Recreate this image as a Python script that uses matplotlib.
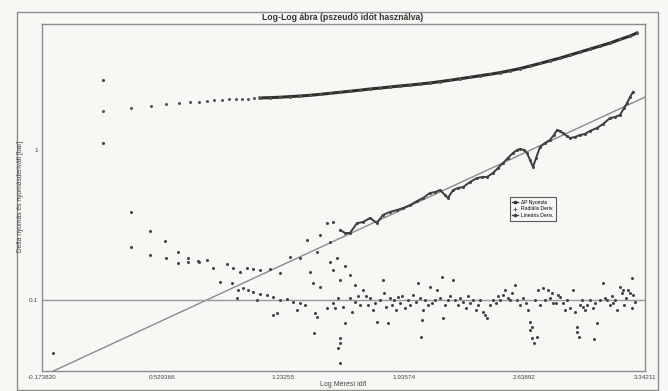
import numpy as np
import matplotlib
matplotlib.use("Agg")
import matplotlib.pyplot as plt
from matplotlib.patches import Rectangle
from matplotlib.ticker import FixedLocator, FuncFormatter

plt.rcParams['font.family'] = ['Liberation Sans', 'DejaVu Sans']

# both axes are in log10 units: x = log t, y = log dp
x_min, x_max = -0.17382, 3.34211
y_min, y_max = -1.473, 0.84

# pressure change (dp)
dp_x = [0.182, 0.345, 0.462, 0.549, 0.625, 0.689, 0.742, 0.788, 0.829, 0.876,
        0.917, 0.957, 0.992, 1.027, 1.062, 1.097, 1.156, 1.214, 1.272, 1.331,
        1.389, 1.447, 1.506, 1.564, 1.622, 1.681, 1.739, 1.797, 1.855, 1.914,
        1.972, 2.030, 2.089, 2.147, 2.205, 2.264, 2.322, 2.380, 2.439, 2.497,
        2.555, 2.613, 2.672, 2.730, 2.788, 2.847, 2.905, 2.963, 3.022, 3.080,
        3.138, 3.196, 3.255, 3.295]
dp_y = [0.260, 0.280, 0.293, 0.307, 0.313, 0.320, 0.320, 0.327, 0.333, 0.333,
        0.337, 0.340, 0.341, 0.343, 0.345, 0.347, 0.349, 0.352, 0.356, 0.360,
        0.365, 0.371, 0.378, 0.385, 0.392, 0.399, 0.407, 0.413, 0.420, 0.427,
        0.433, 0.440, 0.447, 0.456, 0.465, 0.475, 0.485, 0.495, 0.505, 0.516,
        0.529, 0.543, 0.560, 0.577, 0.595, 0.613, 0.633, 0.653, 0.673, 0.693,
        0.713, 0.737, 0.760, 0.780]

# derivative following the linear-flow trend
lin_x = [0.182, 0.345, 0.456, 0.543, 0.619, 0.677, 0.736, 0.788, 0.905, 0.940,
         0.981, 1.021, 1.056, 1.097, 1.156, 1.214, 1.272, 1.331, 1.371, 1.430,
         1.447, 1.488, 1.505, 1.523, 1.564, 1.593, 1.622, 1.663, 1.698, 1.739,
         1.779, 1.814, 1.855, 1.896, 1.931, 1.972, 2.013, 2.048, 2.088, 2.118,
         2.147, 2.176, 2.193, 2.223, 2.252, 2.281, 2.322, 2.362, 2.392, 2.421,
         2.456, 2.485, 2.514, 2.543, 2.572, 2.596, 2.613, 2.637, 2.654, 2.672,
         2.689, 2.707, 2.730, 2.759, 2.788, 2.811, 2.829, 2.846, 2.864, 2.887,
         2.905, 2.934, 2.963, 2.992, 3.021, 3.062, 3.097, 3.138, 3.167, 3.196,
         3.220, 3.237, 3.255, 3.272]
lin_y = [0.467, -0.413, -0.540, -0.607, -0.680, -0.720, -0.740, -0.733, -0.760, -0.787,
         -0.813, -0.787, -0.793, -0.800, -0.793, -0.820, -0.713, -0.720, -0.600, -0.680,
         -0.567, -0.487, -0.613, -0.480, -0.533, -0.553, -0.553, -0.487, -0.480, -0.453,
         -0.487, -0.433, -0.413, -0.400, -0.387, -0.367, -0.340, -0.320, -0.287, -0.280,
         -0.267, -0.300, -0.320, -0.267, -0.253, -0.247, -0.213, -0.187, -0.180, -0.180,
         -0.153, -0.120, -0.087, -0.053, -0.020, 0.000, 0.007, 0.000, -0.020, -0.067,
         -0.113, -0.053, 0.020, 0.047, 0.067, 0.100, 0.133, 0.127, 0.113, 0.093,
         0.080, 0.087, 0.100, 0.107, 0.127, 0.147, 0.173, 0.213, 0.220, 0.233,
         0.280, 0.313, 0.353, 0.387]

# derivative settling on the radial-flow level
rad_x = [-0.110, 0.182, 0.345, 0.456, 0.549, 0.619, 0.677, 0.742, 0.823, 0.864,
         0.934, 0.963, 0.969, 0.998, 1.027, 1.056, 1.080, 1.097, 1.138, 1.173,
         1.173, 1.196, 1.214, 1.255, 1.290, 1.313, 1.331, 1.360, 1.389, 1.406,
         1.412, 1.418, 1.430, 1.447, 1.488, 1.505, 1.523, 1.523, 1.534, 1.546,
         1.552, 1.564, 1.564, 1.564, 1.552, 1.564, 1.581, 1.593, 1.593, 1.622,
         1.622, 1.634, 1.651, 1.651, 1.669, 1.680, 1.698, 1.715, 1.727, 1.739,
         1.756, 1.768, 1.779, 1.797, 1.814, 1.820, 1.832, 1.844, 1.855, 1.867,
         1.879, 1.890, 1.902, 1.913, 1.925, 1.943, 1.960, 1.972, 1.989, 2.007,
         2.018, 2.030, 2.036, 2.042, 2.048, 2.059, 2.077, 2.088, 2.100, 2.118,
         2.129, 2.147, 2.158, 2.164, 2.176, 2.193, 2.205, 2.223, 2.234, 2.252,
         2.263, 2.281, 2.298, 2.310, 2.322, 2.339, 2.357, 2.368, 2.380, 2.397,
         2.409, 2.421, 2.438, 2.456, 2.473, 2.485, 2.497, 2.514, 2.526, 2.543,
         2.555, 2.567, 2.584, 2.596, 2.613, 2.631, 2.648, 2.660, 2.672, 2.672,
         2.683, 2.683, 2.695, 2.701, 2.712, 2.718, 2.730, 2.747, 2.759, 2.776,
         2.788, 2.800, 2.806, 2.823, 2.835, 2.846, 2.864, 2.876, 2.887, 2.905,
         2.922, 2.934, 2.946, 2.946, 2.957, 2.963, 2.975, 2.981, 2.992, 3.004,
         3.021, 3.039, 3.045, 3.050, 3.062, 3.080, 3.097, 3.109, 3.120, 3.138,
         3.150, 3.156, 3.167, 3.179, 3.196, 3.208, 3.214, 3.220, 3.231, 3.243,
         3.255, 3.266, 3.266, 3.272, 3.284]
rad_y = [-1.353, 0.047, -0.647, -0.700, -0.720, -0.753, -0.747, -0.747, -0.787, -0.880,
         -0.887, -0.987, -0.933, -0.920, -0.933, -0.947, -1.000, -0.960, -0.967, -0.980,
         -1.100, -1.087, -1.000, -0.993, -1.013, -1.067, -1.020, -1.033, -0.813, -0.887,
         -1.220, -1.087, -1.113, -0.913, -1.053, -0.747, -0.800, -1.020, -1.053, -0.720,
         -0.987, -0.867, -1.253, -1.287, -1.320, -1.420, -1.047, -0.773, -1.153, -0.833,
         -0.987, -1.080, -0.900, -1.013, -0.973, -1.033, -0.933, -0.973, -1.033, -0.987,
         -1.067, -1.020, -1.147, -1.000, -0.867, -0.953, -1.047, -1.153, -0.987, -1.033,
         -1.000, -1.067, -0.980, -1.020, -0.973, -1.053, -1.000, -1.033, -0.967, -1.013,
         -0.887, -0.987, -1.247, -1.133, -1.067, -1.000, -1.033, -0.913, -1.020, -1.000,
         -0.933, -0.987, -0.847, -1.120, -1.033, -1.000, -0.973, -0.867, -1.000, -1.033,
         -0.987, -1.013, -1.053, -0.973, -1.020, -1.000, -1.067, -1.033, -1.000, -1.080,
         -1.100, -1.120, -1.033, -1.000, -1.020, -0.973, -1.000, -0.967, -0.933, -0.987,
         -1.000, -0.953, -0.900, -1.000, -1.033, -0.987, -1.020, -1.067, -1.147, -1.200,
         -1.180, -1.253, -1.287, -1.000, -1.247, -0.933, -1.033, -0.920, -1.000, -0.933,
         -0.987, -0.953, -1.020, -1.020, -0.967, -0.980, -1.020, -1.067, -1.000, -1.053,
         -0.933, -1.080, -1.180, -1.213, -1.247, -1.033, -1.000, -1.047, -1.067, -1.033,
         -1.000, -1.053, -1.260, -1.020, -1.153, -1.000, -0.887, -0.987, -1.000, -1.033,
         -0.973, -1.020, -1.000, -1.067, -0.913, -0.953, -0.933, -1.033, -0.987, -0.933,
         -0.953, -0.853, -1.053, -0.967, -1.013]

# half-slope reference line and radial stabilisation level
half_x = [x_min, x_max]
half_y = [-1.508, 0.353]
radial_level = -1.0

labels = ['\u0394P Nyom\u00e1s', 'Radi\u00e1lis Deriv.', 'Line\u00e1ris Deriv.']

fig = plt.figure(figsize=(6.68, 3.91), dpi=100)
bg = '#f7f7f3'
fig.patch.set_facecolor(bg)
fig.patches.append(Rectangle((17 / 668, 1 / 391), 641 / 668, 378 / 391,
                             transform=fig.transFigure, fill=False,
                             ec='#8c8c8c', lw=1.0))

ax = fig.add_axes([42 / 668, 20 / 391, 603 / 668, 347 / 391])
ax.set_facecolor(bg)

ax.plot(half_x, half_y, color='#8a8a8a', lw=1.0, zorder=1)
ax.axhline(radial_level, color='#9a9a9a', lw=1.0, zorder=1)

dp_x = np.array(dp_x)
dp_y = np.array(dp_y)
dense = dp_x >= 1.09
ax.plot(dp_x[dense], dp_y[dense], color='#2e2e2e', lw=2.2, zorder=3)
ax.plot(dp_x, dp_y, 'o', color='#555555', ms=2.2, mew=0, zorder=3)

lin_x = np.array(lin_x)
lin_y = np.array(lin_y)
trend = lin_x >= 1.55
ax.plot(lin_x[trend], lin_y[trend], color='#3c3c3c', lw=1.4, zorder=3)
ax.plot(lin_x, lin_y, 'o', color='#444444', ms=2.2, mew=0, zorder=3)

ax.plot(rad_x, rad_y, 'o', color='#444444', ms=2.2, mew=0, zorder=3)

ax.set_xlim(x_min, x_max)
ax.set_ylim(y_min, y_max)
ax.xaxis.set_major_locator(FixedLocator(np.linspace(x_min, x_max, 6)))
ax.xaxis.set_major_formatter(FuncFormatter(lambda v, p: '{:#.6g}'.format(v)))
ax.yaxis.set_major_locator(FixedLocator([-1.0, 0.0]))
ax.yaxis.set_major_formatter(FuncFormatter(lambda v, p: '{:g}'.format(10 ** v)))
ax.tick_params(length=0, labelsize=4.6, colors='#444444', pad=3)
for s in ax.spines.values():
    s.set_color('#8c8c8c')
    s.set_linewidth(1.0)

fig.text(343 / 668, 1 - 17 / 391, 'Log-Log \u00e1bra (pszeud\u00f3 id\u0151t haszn\u00e1lva)',
         ha='center', va='center', fontsize=6.2, fontweight='bold', color='#333333')
fig.text(343 / 668, 1 - 385 / 391, 'Log M\u00e9r\u00e9si id\u0151',
         ha='center', va='center', fontsize=5, color='#444444')
fig.text(21 / 668, 1 - 196 / 391, 'Delta nyom\u00e1s \u00e9s nyom\u00e1sderiv\u00e1lt [bar]',
         ha='center', va='center', rotation=90, fontsize=4.8, color='#444444')

handles = [
    plt.Line2D([], [], color='#333333', lw=1.0, marker='o', ms=1.6),
    plt.Line2D([], [], color='#444444', lw=0, marker='+', ms=2.5, mew=0.6),
    plt.Line2D([], [], color='#444444', lw=1.0, marker='o', ms=1.6),
]
leg = ax.legend(handles, labels, loc='upper left', bbox_to_anchor=(0.776, 0.501),
                fontsize=3.6, frameon=True, fancybox=False, borderpad=0.5,
                handlelength=1.2, labelspacing=0.35, handletextpad=0.6,
                borderaxespad=0)
leg.get_frame().set_edgecolor('#333333')
leg.get_frame().set_linewidth(0.8)
leg.get_frame().set_facecolor(bg)

fig.savefig('out.png', dpi=100, facecolor=fig.get_facecolor())
